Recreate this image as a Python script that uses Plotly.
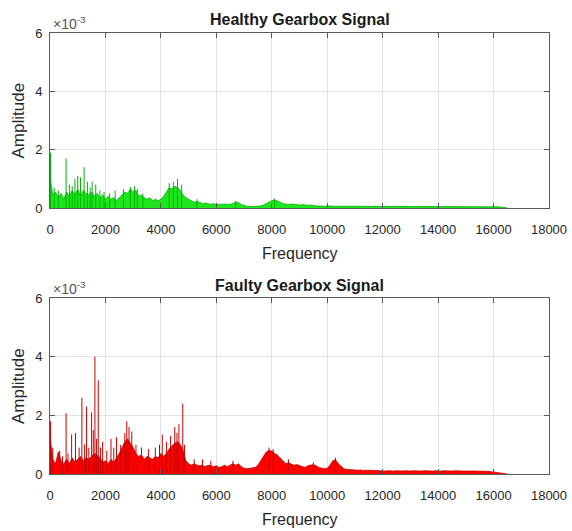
import plotly.graph_objects as go

W, H = 572, 531

# frequency grid (Hz), 100 Hz bins
freq = list(range(0, 16600, 100))

# healthy spectrum envelope (x1e-3)
healthy_env = [
    1.05, 0.45, 0.55, 0.35, 0.5, 0.3, 0.55, 0.4, 0.6, 0.45,
    0.65, 0.4, 0.6, 0.5, 0.45, 0.55, 0.4, 0.5, 0.35, 0.45,
    0.3, 0.4, 0.3, 0.35, 0.25, 0.35, 0.45, 0.55, 0.5, 0.65,
    0.55, 0.6, 0.4, 0.45, 0.35, 0.3, 0.35, 0.25, 0.3, 0.25,
    0.3, 0.4, 0.55, 0.7, 0.65, 0.75, 0.7, 0.6, 0.45, 0.35,
    0.3, 0.25, 0.2, 0.22, 0.2, 0.15, 0.17, 0.14, 0.13, 0.15,
    0.12, 0.13, 0.12, 0.14, 0.12, 0.13, 0.15, 0.2, 0.18, 0.12,
    0.08, 0.06, 0.05, 0.05, 0.05, 0.06, 0.07, 0.1, 0.15, 0.22,
    0.25, 0.28, 0.25, 0.2, 0.15, 0.13, 0.12, 0.14, 0.12, 0.11,
    0.1, 0.12, 0.1, 0.09, 0.1, 0.08, 0.07, 0.07, 0.06, 0.06,
    0.07, 0.06, 0.07, 0.06, 0.06, 0.07, 0.06, 0.06, 0.07, 0.06,
    0.06, 0.05, 0.06, 0.06, 0.05, 0.06, 0.05, 0.06, 0.05, 0.06,
    0.05, 0.06, 0.05, 0.05, 0.06, 0.05, 0.05, 0.06, 0.05, 0.05,
    0.05, 0.05, 0.06, 0.05, 0.05, 0.05, 0.06, 0.05, 0.05, 0.05,
    0.05, 0.06, 0.05, 0.05, 0.05, 0.05, 0.06, 0.05, 0.05, 0.05,
    0.05, 0.05, 0.06, 0.05, 0.06, 0.05, 0.05, 0.06, 0.05, 0.05,
    0.05, 0.04, 0.04, 0.03, 0.02, 0.0,
]

# faulty spectrum envelope (x1e-3)
faulty_env = [
    1.3, 0.5, 0.35, 0.75, 0.45, 0.35, 0.5, 0.35, 0.55, 0.4,
    0.5, 0.6, 0.45, 0.55, 0.5, 0.6, 0.7, 0.65, 0.55, 0.4,
    0.45, 0.35, 0.5, 0.4, 0.55, 0.7, 0.9, 1.1, 1.2, 1.05,
    0.9, 0.7, 0.6, 0.65, 0.5, 0.6, 0.55, 0.5, 0.6, 0.55,
    0.7, 0.6, 0.7, 0.85, 0.95, 1.05, 1.1, 1.0, 0.8, 0.45,
    0.35, 0.3, 0.35, 0.3, 0.28, 0.3, 0.25, 0.3, 0.28, 0.25,
    0.28, 0.22, 0.25, 0.3, 0.25, 0.3, 0.35, 0.3, 0.35, 0.25,
    0.2, 0.18, 0.2, 0.2, 0.22, 0.3, 0.45, 0.6, 0.75, 0.8,
    0.78, 0.7, 0.65, 0.55, 0.45, 0.35, 0.38, 0.35, 0.3, 0.32,
    0.28, 0.25, 0.22, 0.28, 0.3, 0.32, 0.28, 0.22, 0.2, 0.18,
    0.2, 0.3, 0.45, 0.48, 0.35, 0.25, 0.18, 0.16, 0.15, 0.14,
    0.14, 0.13, 0.14, 0.12, 0.13, 0.12, 0.13, 0.12, 0.12, 0.11,
    0.11, 0.1, 0.11, 0.1, 0.1, 0.11, 0.1, 0.1, 0.11, 0.1,
    0.1, 0.11, 0.1, 0.1, 0.1, 0.11, 0.1, 0.1, 0.1, 0.11,
    0.1, 0.1, 0.11, 0.1, 0.1, 0.1, 0.11, 0.1, 0.1, 0.1,
    0.1, 0.11, 0.1, 0.1, 0.1, 0.11, 0.1, 0.1, 0.09, 0.08,
    0.07, 0.06, 0.05, 0.04, 0.02, 0.0,
]

# isolated spectral peaks (Hz, x1e-3)
healthy_spike_f = [20, 150, 300, 580, 700, 800, 900, 1000, 1100, 1230, 1350, 1450,
                   1520, 1650, 1800, 1950, 2150, 2350, 2650, 2900, 3050, 3150,
                   3350, 4300, 4450, 4600, 4750, 5300, 6700, 8100]
healthy_spike_a = [1.9, 0.7, 0.6, 1.7, 0.8, 0.75, 1.0, 1.1, 1.05, 1.4, 0.9, 0.7,
                   0.9, 0.8, 0.6, 0.55, 0.5, 0.6, 0.65, 0.72, 0.75, 0.65,
                   0.5, 0.85, 0.9, 1.0, 0.8, 0.3, 0.25, 0.32]

faulty_spike_f = [20, 100, 350, 450, 580, 650, 780, 920, 1050, 1150, 1250, 1320,
                  1400, 1500, 1560, 1620, 1680, 1740, 1820, 1900, 2050, 2200,
                  2300, 2400, 2550, 2700, 2770, 2850, 2950, 3100, 3300, 3550,
                  3800, 3950, 4050, 4200, 4350, 4500, 4580, 4650, 4790, 4850,
                  5200, 5500, 5800, 6600, 7900, 8050, 8600, 9500, 10300]
faulty_spike_a = [1.8, 0.9, 0.8, 0.6, 2.07, 0.7, 1.35, 1.4, 0.9, 2.6, 1.0, 2.3,
                  0.9, 2.1, 1.5, 4.0, 1.2, 3.2, 0.9, 1.1, 0.8, 1.2,
                  0.9, 1.25, 1.0, 1.4, 1.8, 1.6, 1.45, 1.0, 0.9, 0.85,
                  0.9, 1.0, 1.35, 1.1, 1.3, 1.6, 1.4, 1.7, 2.4, 1.0,
                  0.5, 0.5, 0.45, 0.45, 0.9, 0.85, 0.5, 0.4, 0.55]

titles = ["Healthy Gearbox Signal", "Faulty Gearbox Signal"]
x_ticks = [0, 2000, 4000, 6000, 8000, 10000, 12000, 14000, 16000, 18000]
y_ticks = [0, 2, 4, 6]

FONT = "Liberation Sans, Arial, Helvetica, sans-serif"
TXT = "#262626"

# pixel layout
px_l, px_r = 50, 549
tops = [(33, 208), (298, 474)]


def py(p):
    return 1 - p / H


fig = go.Figure()

series = [
    (healthy_env, healthy_spike_f, healthy_spike_a, "#1ee61e", "#00b400"),
    (faulty_env, faulty_spike_f, faulty_spike_a, "#ff0000", "#c80000"),
]

for i, (env, sf, sa, fillc, linec) in enumerate(series):
    xa = "x" if i == 0 else "x2"
    ya = "y" if i == 0 else "y2"
    fig.add_trace(go.Scatter(
        x=freq, y=env, mode="lines", fill="tozeroy", fillcolor=fillc,
        line=dict(color=linec, width=0.8), xaxis=xa, yaxis=ya, showlegend=False,
        hoverinfo="skip",
    ))
    xs, ys = [], []
    for f, a in zip(sf, sa):
        xs += [f, f, None]
        ys += [0, a, None]
    fig.add_trace(go.Scatter(
        x=xs, y=ys, mode="lines", line=dict(color=linec, width=1),
        xaxis=xa, yaxis=ya, showlegend=False, hoverinfo="skip",
    ))

axis_common = dict(
    showline=True, linecolor="#5a5a5a", linewidth=1, mirror="allticks",
    ticks="inside", ticklen=5, tickcolor="#5a5a5a", automargin=False,
    showgrid=True, gridcolor="#e3e3e3", gridwidth=1, zeroline=False,
    tickfont=dict(family=FONT, size=13, color=TXT),
)

layout = dict(
    width=W, height=H, margin=dict(l=0, r=0, t=0, b=0, autoexpand=False),
    paper_bgcolor="white", plot_bgcolor="white",
    font=dict(family=FONT, color=TXT),
    showlegend=False,
)
for i, (t, b) in enumerate(tops):
    sx = "" if i == 0 else "2"
    layout["xaxis" + sx] = dict(
        axis_common, domain=[px_l / W, px_r / W], range=[0, 18000],
        tickvals=x_ticks, ticktext=[str(v) for v in x_ticks],
        anchor="y" + sx, ticklabelstandoff=9,
    )
    layout["yaxis" + sx] = dict(
        axis_common, domain=[py(b), py(t)], range=[0, 6],
        tickvals=y_ticks, ticktext=[str(v) for v in y_ticks],
        anchor="x" + sx, ticklabelstandoff=4,
    )
fig.update_layout(**layout)

ann = []
for i, (t, b) in enumerate(tops):
    common = dict(xref="paper", yref="paper", showarrow=False,
                  xanchor="center", yanchor="middle")
    ann.append(dict(common, text="<b>" + titles[i] + "</b>", x=(px_l + px_r) / 2 / W,
                    y=py(t - 13), font=dict(family=FONT, size=16, color="#1a1a1a")))
    ann.append(dict(common, text="×10<sup>-3</sup>", x=(px_l + 1) / W, y=py(t - 10),
                    xanchor="left", font=dict(family=FONT, size=14, color="#555555")))
    ann.append(dict(common, text="Frequency", x=(px_l + px_r) / 2 / W, y=py(b + 45),
                    font=dict(family=FONT, size=16, color=TXT)))
    ann.append(dict(common, text="Amplitude", x=18 / W, y=py((t + b) / 2),
                    textangle=-90, font=dict(family=FONT, size=17, color=TXT)))
fig.update_layout(annotations=ann)

fig.write_html("out.html")
